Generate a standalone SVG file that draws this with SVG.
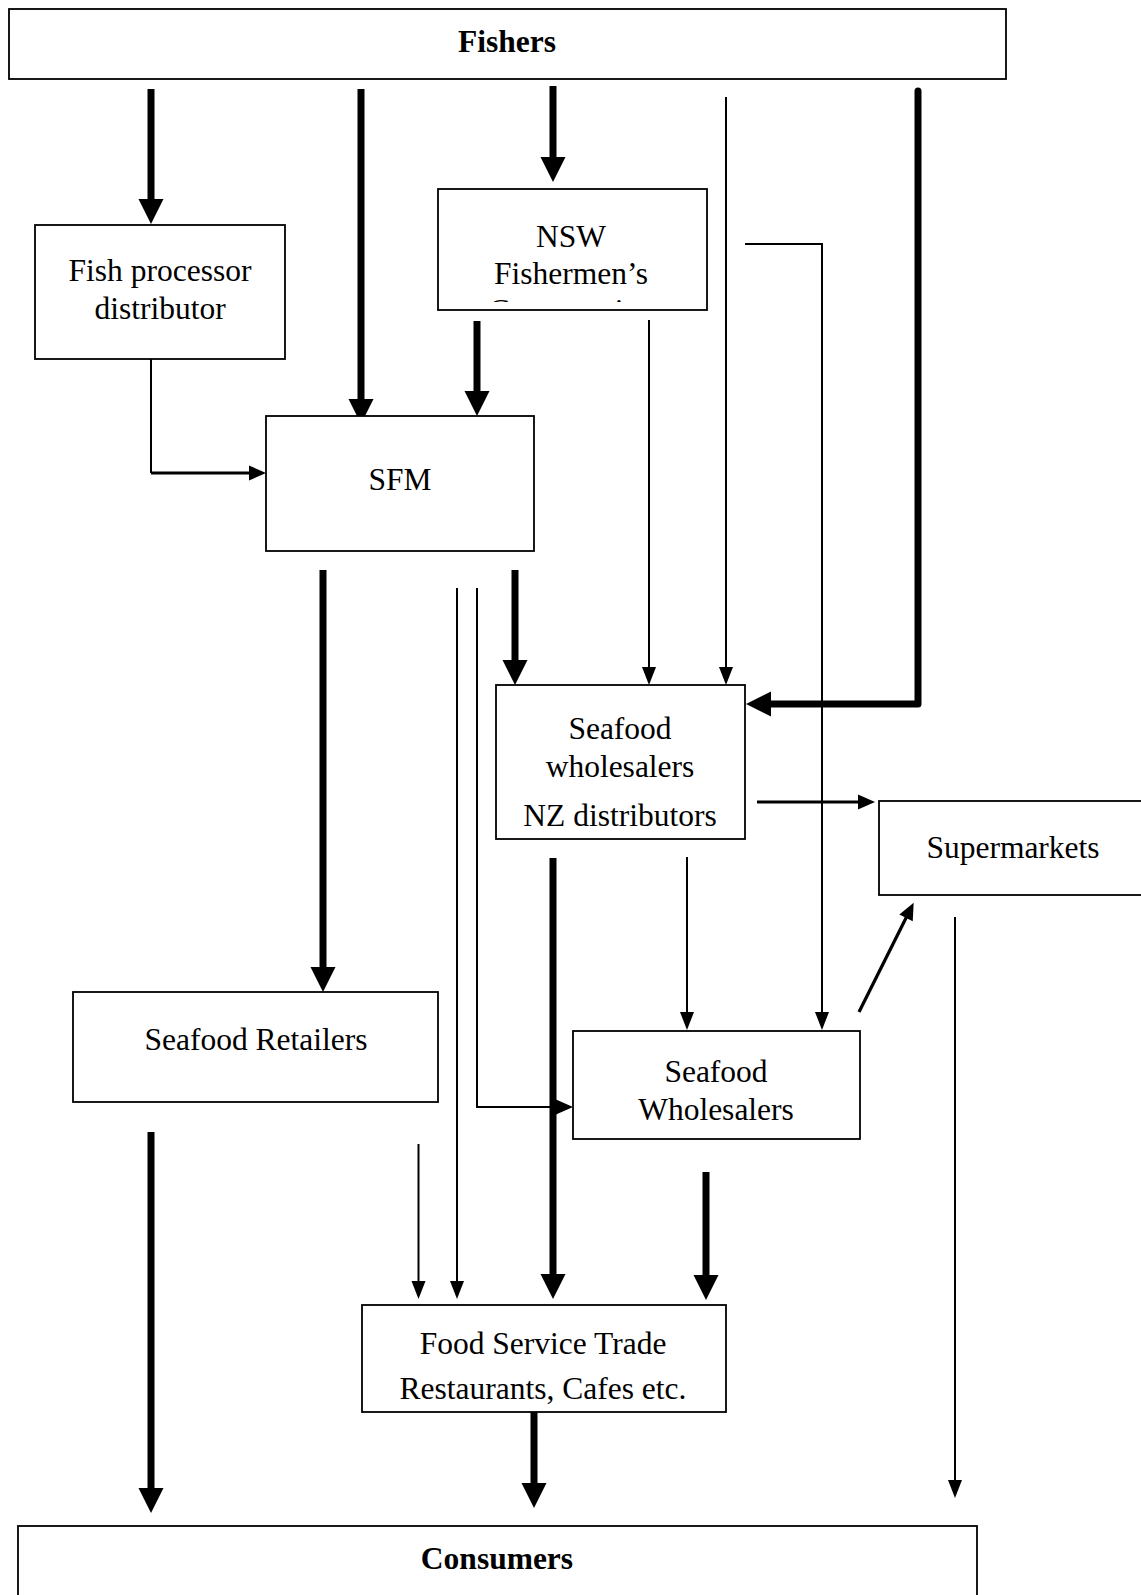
<svg xmlns="http://www.w3.org/2000/svg" width="1141" height="1595" viewBox="0 0 1141 1595">
  <style>
    .box { fill: #ffffff; stroke: #000000; stroke-width: 1.8; }
    .lbl { font-family: "Liberation Serif", "Times New Roman", serif; font-size: 31.5px; fill: #000000; text-anchor: middle; }
    .bold { font-weight: bold; }
    .thick { fill: none; stroke: #000000; stroke-width: 7; }
    .mid { fill: none; stroke: #000000; stroke-width: 3.2; }
    .thin { fill: none; stroke: #000000; stroke-width: 2; }
  </style>
  <defs>
    <marker id="head-big" markerUnits="userSpaceOnUse" orient="auto" overflow="visible" markerWidth="26" markerHeight="26" refX="0" refY="0">
      <path d="M-1,-12.5 L24,0 L-1,12.5 z" fill="#000"/>
    </marker>
    <marker id="head-mid" markerUnits="userSpaceOnUse" orient="auto" overflow="visible" markerWidth="18" markerHeight="16" refX="0" refY="0">
      <path d="M-1,-7.5 L16,0 L-1,7.5 z" fill="#000"/>
    </marker>
    <marker id="head-thin" markerUnits="userSpaceOnUse" orient="auto" overflow="visible" markerWidth="18" markerHeight="14" refX="0" refY="0">
      <path d="M-1,-7 L17,0 L-1,7 z" fill="#000"/>
    </marker>
    <clipPath id="nsw-clip">
      <rect x="438" y="189" width="269" height="113"/>
    </clipPath>
  </defs>

  <rect width="1141" height="1595" fill="#ffffff"/>

  <!-- flows between the market participants -->
  <g id="connectors">
    <!-- heavy flows -->
    <path class="thick" d="M151,89 V200" marker-end="url(#head-big)"/>
    <path class="thick" d="M361,89 V400" marker-end="url(#head-big)"/>
    <path class="thick" d="M553,86 V158" marker-end="url(#head-big)"/>
    <path class="thick" d="M477,321 V392" marker-end="url(#head-big)"/>
    <path class="thick" d="M323,570 V968" marker-end="url(#head-big)"/>
    <path class="thick" d="M515,570 V661" marker-end="url(#head-big)"/>
    <path class="thick" d="M553,858 V1275" marker-end="url(#head-big)"/>
    <path class="thick" d="M706,1172 V1276" marker-end="url(#head-big)"/>
    <path class="thick" d="M151,1132 V1489" marker-end="url(#head-big)"/>
    <path class="thick" d="M534,1412 V1484" marker-end="url(#head-big)"/>
    <path class="thick" d="M918,91 V704 H770" stroke-linecap="round" stroke-linejoin="round" marker-end="url(#head-big)"/>

    <!-- light flows -->
    <path class="thin" d="M726,97 V668" marker-end="url(#head-thin)"/>
    <path class="thin" d="M649,320 V668" marker-end="url(#head-thin)"/>
    <path class="thin" d="M745,244 H822 V1013" marker-end="url(#head-thin)"/>
    <path class="thin" d="M687,857 V1013" marker-end="url(#head-thin)"/>
    <path class="thin" d="M457,588 V1282" marker-end="url(#head-thin)"/>
    <path class="thin" d="M418.5,1144 V1282" marker-end="url(#head-thin)"/>
    <path class="thin" d="M955,917 V1481" marker-end="url(#head-thin)"/>

    <!-- processor to SFM -->
    <path class="thin" d="M151,359 V473"/>
    <path class="mid" d="M151,473 H250" marker-end="url(#head-mid)"/>

    <!-- SFM to Seafood Wholesalers -->
    <path class="thin" d="M477,588 V1107 H557" marker-end="url(#head-mid)"/>

    <!-- into Supermarkets -->
    <path class="mid" d="M757,802 H859" marker-end="url(#head-mid)"/>
    <path class="mid" d="M859,1012 L906.5,917" marker-end="url(#head-mid)"/>
  </g>

  <g id="fishers">
    <rect class="box" x="9" y="9" width="997" height="70"/>
    <text class="lbl bold" x="507" y="51.5">Fishers</text>
  </g>

  <g id="fish-processor">
    <rect class="box" x="35" y="225" width="250" height="134"/>
    <text class="lbl" x="160" y="280.5">Fish processor</text>
    <text class="lbl" x="160" y="318.5">distributor</text>
  </g>

  <g id="nsw-coop">
    <rect class="box" x="438" y="189" width="269" height="121"/>
    <text class="lbl" x="571" y="246.5">NSW</text>
    <text class="lbl" x="571" y="283.5">Fishermen’s</text>
    <text class="lbl" x="571" y="320.5" clip-path="url(#nsw-clip)">Co-operative</text>
  </g>

  <g id="sfm">
    <rect class="box" x="266" y="416" width="268" height="135"/>
    <text class="lbl" x="400" y="489.5">SFM</text>
  </g>

  <g id="wholesalers-nz">
    <rect class="box" x="496" y="685" width="249" height="154"/>
    <text class="lbl" x="620" y="738.5">Seafood</text>
    <text class="lbl" x="620" y="776.5">wholesalers</text>
    <text class="lbl" x="620" y="825.5">NZ distributors</text>
  </g>

  <g id="supermarkets">
    <rect class="box" x="879" y="801" width="280" height="94"/>
    <text class="lbl" x="1013" y="857.5">Supermarkets</text>
  </g>

  <g id="retailers">
    <rect class="box" x="73" y="992" width="365" height="110"/>
    <text class="lbl" x="256" y="1049.5">Seafood Retailers</text>
  </g>

  <g id="wholesalers">
    <rect class="box" x="573" y="1031" width="287" height="108"/>
    <text class="lbl" x="716" y="1081.5">Seafood</text>
    <text class="lbl" x="716" y="1119.5">Wholesalers</text>
  </g>

  <g id="food-service">
    <rect class="box" x="362" y="1305" width="364" height="107"/>
    <text class="lbl" x="543" y="1353.5">Food Service Trade</text>
    <text class="lbl" x="543" y="1398.5">Restaurants, Cafes etc.</text>
  </g>

  <g id="consumers">
    <rect class="box" x="18" y="1526" width="959" height="100"/>
    <text class="lbl bold" x="497" y="1568.5">Consumers</text>
  </g>
</svg>
